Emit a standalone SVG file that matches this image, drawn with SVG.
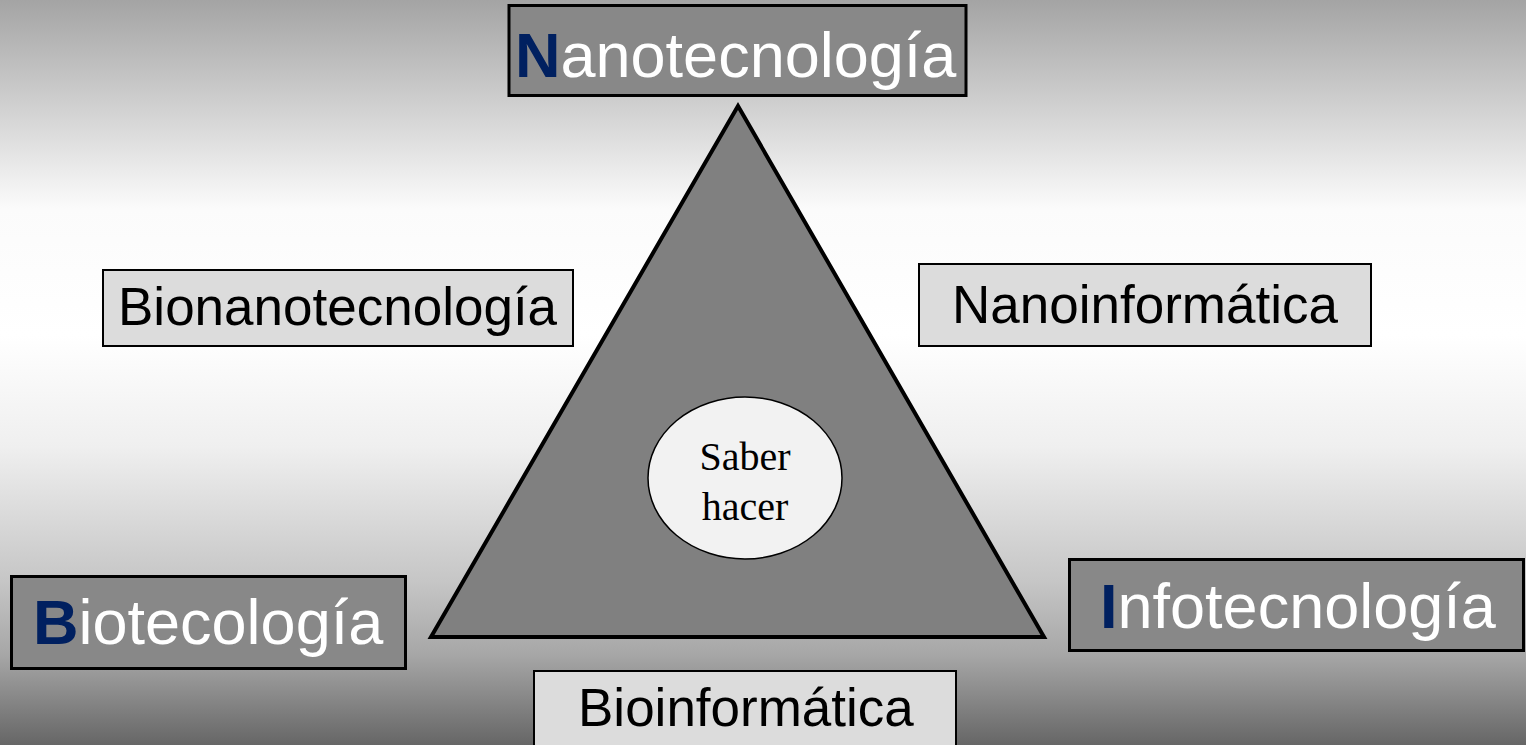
<svg xmlns="http://www.w3.org/2000/svg" width="1526" height="745" viewBox="0 0 1526 745">
<defs>
<linearGradient id="bg" x1="0" y1="0" x2="0" y2="1">
<stop offset="0" stop-color="#a4a4a4"/>
<stop offset="0.28" stop-color="#fbfbfb"/>
<stop offset="0.45" stop-color="#ffffff"/>
<stop offset="0.6" stop-color="#efefef"/>
<stop offset="0.78" stop-color="#c6c6c6"/>
<stop offset="0.88" stop-color="#a6a6a6"/>
<stop offset="1" stop-color="#666666"/>
</linearGradient>
</defs>
<style>
.dark{fill:#888888;stroke:#000;stroke-width:3}
.light{fill:#dcdcdc;stroke:#000;stroke-width:2}
.big{font-family:"Liberation Sans",Arial,sans-serif;font-size:63px;fill:#ffffff}
.ini{fill:#002060;font-weight:bold}
.mid{font-family:"Liberation Sans",Arial,sans-serif;font-size:53px;fill:#000}
.ser{font-family:"Liberation Serif","Times New Roman",serif;font-size:40px;fill:#000;text-anchor:middle}
</style>
<rect x="0" y="0" width="1526" height="745" fill="url(#bg)"/>
<g id="connectors">
<polygon id="triangle" points="738,106 431,637 1044,637" fill="#808080" stroke="#000" stroke-width="4" stroke-linejoin="miter"/>
</g>
<g id="saber-hacer">
<ellipse cx="745" cy="478" rx="97" ry="81" fill="#f2f2f2" stroke="#000" stroke-width="1.5"/>
<text class="ser" x="745" y="470">Saber</text>
<text class="ser" x="745" y="520">hacer</text>
</g>
<g id="nanotecnologia">
<rect class="dark" x="509" y="5.5" width="457" height="90"/>
<text class="big" x="515" y="77"><tspan class="ini">N</tspan>anotecnología</text>
</g>
<g id="biotecologia">
<rect class="dark" x="11.5" y="576.5" width="394" height="92"/>
<text class="big" x="33" y="644"><tspan class="ini">B</tspan>iotecología</text>
</g>
<g id="infotecnologia">
<rect class="dark" x="1069.5" y="559.5" width="454" height="91"/>
<text class="big" x="1100" y="628"><tspan class="ini">I</tspan>nfotecnología</text>
</g>
<g id="bionanotecnologia">
<rect class="light" x="103" y="270" width="470" height="76"/>
<text class="mid" x="118" y="325">Bionanotecnología</text>
</g>
<g id="nanoinformatica">
<rect class="light" x="919" y="264" width="452" height="82"/>
<text class="mid" x="952" y="323">Nanoinformática</text>
</g>
<g id="bioinformatica">
<rect class="light" x="534" y="671" width="422" height="82"/>
<text class="mid" x="578" y="726">Bioinformática</text>
</g>
</svg>
